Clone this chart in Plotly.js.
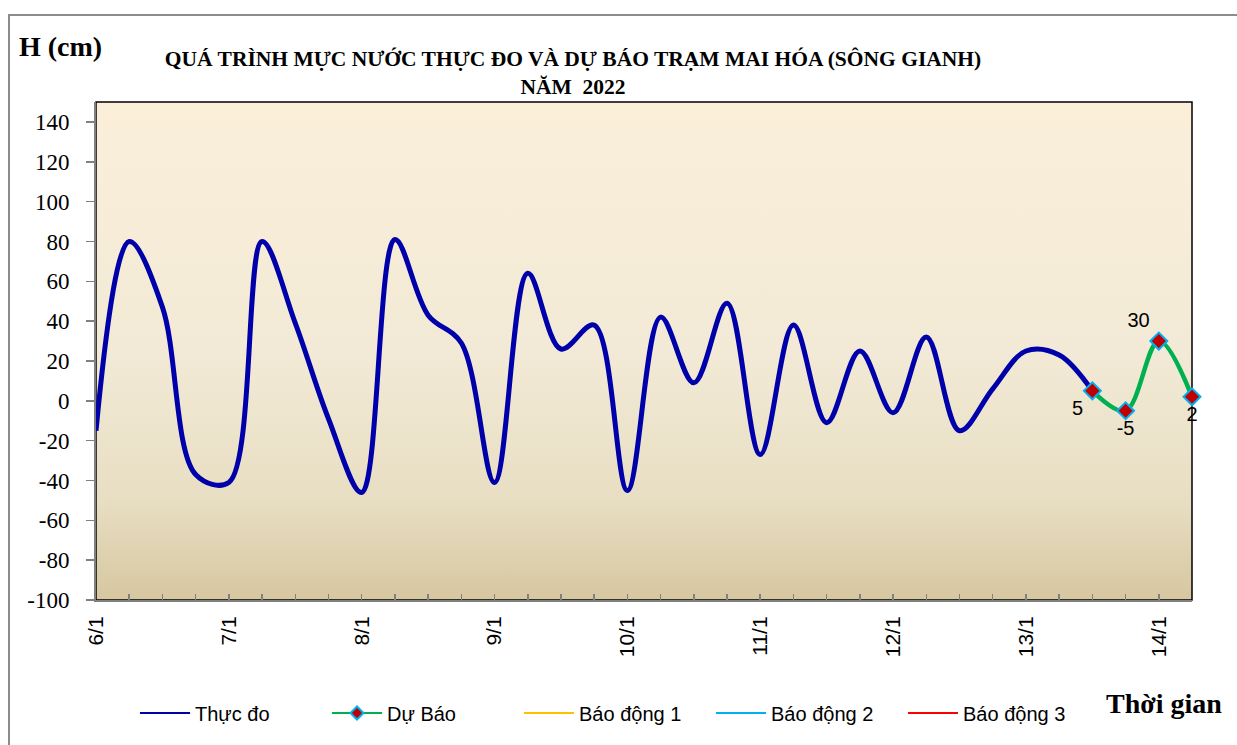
<!DOCTYPE html>
<html>
<head>
<meta charset="utf-8">
<script src="https://cdn.plot.ly/plotly-3.0.1.min.js"></script>
<style>
  html, body { margin: 0; padding: 0; background: #fff; }
  #wrap { position: relative; width: 1237px; height: 745px; overflow: hidden; }
  #chart { width: 1237px; height: 745px; }
  #frame { position: absolute; left: 8px; top: 14px; width: 1250px; height: 760px;
           border: 2px solid #8c8c8c; box-sizing: border-box; pointer-events: none; }
</style>
</head>
<body>
<div id="wrap">
  <div id="chart"></div>
  <div id="frame"></div>
</div>
<script>
// ---- data (6-hourly, January 2022) ----
const observedTimes = [
  "2022-01-06 00:00","2022-01-06 06:00","2022-01-06 12:00","2022-01-06 18:00",
  "2022-01-07 00:00","2022-01-07 06:00","2022-01-07 12:00","2022-01-07 18:00",
  "2022-01-08 00:00","2022-01-08 06:00","2022-01-08 12:00","2022-01-08 18:00",
  "2022-01-09 00:00","2022-01-09 06:00","2022-01-09 12:00","2022-01-09 18:00",
  "2022-01-10 00:00","2022-01-10 06:00","2022-01-10 12:00","2022-01-10 18:00",
  "2022-01-11 00:00","2022-01-11 06:00","2022-01-11 12:00","2022-01-11 18:00",
  "2022-01-12 00:00","2022-01-12 06:00","2022-01-12 12:00","2022-01-12 18:00",
  "2022-01-13 00:00","2022-01-13 06:00","2022-01-13 12:00"
];
const observedLevels = [
  -15, 80, 47, -37,
  -41, 80, 39, -9,
  -46, 81, 43, 29,
  -41, 64, 26, 38,
  -45, 42, 9, 49,
  -27, 38, -11, 25,
  -6, 32, -15, 6,
  25, 23, 5
];
const forecastTimes = ["2022-01-13 12:00","2022-01-13 18:00","2022-01-14 00:00","2022-01-14 06:00"];
const forecastLevels = [5, -5, 30, 2];
const forecastLabelPos = ["bottom left","bottom center","top left","bottom center"];

const seriesNames = ["Thực đo", "Dự Báo", "Báo động 1", "Báo động 2", "Báo động 3"];
const seriesColors = ["#0000AA", "#00B050", "#FFC000", "#00B0F0", "#FF0000"];

const yTickVals = [-100, -80, -60, -40, -20, 0, 20, 40, 60, 80, 100, 120, 140];
const yRange = [-100, 150];
const xRange = ["2022-01-06 00:00", "2022-01-14 06:00"];

// ---- traces ----
const traces = [
  {
    x: observedTimes, y: observedLevels, name: seriesNames[0], type: "scatter", mode: "lines",
    line: { color: seriesColors[0], width: 5, shape: "spline", smoothing: 1 },
    showlegend: false, legendgroup: "obs"
  },
  {
    x: forecastTimes, y: forecastLevels, name: seriesNames[1], type: "scatter", mode: "lines+markers+text",
    line: { color: seriesColors[1], width: 4.5, shape: "spline", smoothing: 1 },
    marker: { symbol: "diamond", size: 13, color: "#C00000", line: { color: "#00B0F0", width: 2 } },
    text: forecastLevels.map(String), textposition: forecastLabelPos,
    textfont: { family: "Liberation Sans, Arial, sans-serif", size: 20, color: "#000" },
    cliponaxis: false, showlegend: false, legendgroup: "fc"
  },
  // legend entries (thin key lines, as in the original legend)
  {
    x: xRange, y: [null, null], name: seriesNames[0], type: "scatter", mode: "lines",
    line: { color: seriesColors[0], width: 2 }, legendgroup: "obs", showlegend: true
  },
  {
    x: xRange, y: [null, null], name: seriesNames[1], type: "scatter", mode: "lines+markers",
    line: { color: seriesColors[1], width: 2 },
    marker: { symbol: "diamond", size: 10, color: "#C00000", line: { color: "#00B0F0", width: 2 } },
    legendgroup: "fc", showlegend: true
  }
];
// alarm levels lie outside the plotted range: they only appear in the legend
for (let i = 2; i < seriesNames.length; i++) {
  traces.push({
    x: xRange, y: [null, null], name: seriesNames[i], type: "scatter", mode: "lines",
    line: { color: seriesColors[i], width: 2 }, showlegend: true
  });
}

// ---- layout ----
const L = 96, R = 45, T = 102, B = 145, W = 1237, H = 745;
const pw = W - L - R, ph = H - T - B;
const px = v => (v - L) / pw;
const py = v => (H - B - v) / ph;

const gradSvg =
  "<svg xmlns='http://www.w3.org/2000/svg' width='100' height='100' preserveAspectRatio='none'>" +
  "<defs><linearGradient id='g' x1='0' y1='0' x2='0' y2='1'>" +
  "<stop offset='0' stop-color='#FBEFDA'/>" +
  "<stop offset='0.5' stop-color='#F2EAD6'/>" +
  "<stop offset='0.8' stop-color='#E8DEC3'/>" +
  "<stop offset='1' stop-color='#D6C7A0'/>" +
  "</linearGradient></defs><rect width='100' height='100' fill='url(#g)'/></svg>";

const layout = {
  width: W, height: H,
  margin: { l: L, r: R, t: T, b: B, pad: 0 },
  paper_bgcolor: "rgba(0,0,0,0)",
  plot_bgcolor: "rgba(0,0,0,0)",
  font: { family: "Liberation Sans, Arial, sans-serif", color: "#000" },
  title: {
    text: "QUÁ TRÌNH MỰC NƯỚC THỰC ĐO VÀ DỰ BÁO TRẠM MAI HÓA (SÔNG GIANH)<br>NĂM  2022",
    font: { family: "Liberation Serif, Times New Roman, serif", size: 21.5, weight: "bold", color: "#000" },
    xref: "container", x: 573 / W, xanchor: "center",
    yref: "container", y: 1 - 66 / H, yanchor: "middle"
  },
  images: [{
    source: "data:image/svg+xml;charset=utf-8," + encodeURIComponent(gradSvg),
    xref: "paper", yref: "paper", x: 0, y: 1, sizex: 1, sizey: 1,
    xanchor: "left", yanchor: "top", sizing: "stretch", layer: "below"
  }],
  xaxis: {
    type: "date", range: xRange, autorange: false,
    tick0: "2022-01-06", dtick: 86400000, tickformat: "%-d/%-m",
    tickangle: -90, ticks: "inside", ticklen: 6, tickwidth: 1.5, tickcolor: "#808080",
    minor: { dtick: 21600000, ticks: "inside", ticklen: 6, tickwidth: 1.5, tickcolor: "#808080", showgrid: false },
    showline: true, linecolor: "#808080", linewidth: 2,
    showgrid: false, zeroline: false,
    tickfont: { family: "Liberation Sans, Arial, sans-serif", size: 21, color: "#000" },
    ticklabelstandoff: 6
  },
  yaxis: {
    range: yRange, autorange: false,
    tickvals: yTickVals, ticktext: yTickVals.map(String),
    ticks: "outside", ticklen: 8, tickwidth: 1.5, tickcolor: "#808080",
    showline: true, linecolor: "#808080", linewidth: 2,
    showgrid: false, zeroline: false,
    tickfont: { family: "Liberation Serif, Times New Roman, serif", size: 23, color: "#000" },
    ticklabelstandoff: 12
  },
  shapes: [{
    type: "rect", xref: "paper", yref: "paper", x0: 0, x1: 1, y0: 0, y1: 1,
    line: { color: "#000", width: 1.5 }, fillcolor: "rgba(0,0,0,0)", layer: "below"
  }],
  showlegend: true,
  legend: {
    orientation: "h", xref: "paper", yref: "paper",
    x: px(615), xanchor: "center", y: py(713), yanchor: "middle",
    font: { family: "Liberation Sans, Arial, sans-serif", size: 20, color: "#000" },
    bgcolor: "rgba(0,0,0,0)", itemwidth: 50, tracegroupgap: 0,
    entrywidth: 127, entrywidthmode: "pixels"
  },
  annotations: [
    {
      text: "H (cm)", showarrow: false, xref: "paper", yref: "paper",
      x: px(17), xanchor: "left", y: py(47), yanchor: "middle",
      font: { family: "Liberation Serif, Times New Roman, serif", size: 28, weight: "bold", color: "#000" }
    },
    {
      text: "Thời gian", showarrow: false, xref: "paper", yref: "paper",
      x: px(1104), xanchor: "left", y: py(703), yanchor: "middle",
      font: { family: "Liberation Serif, Times New Roman, serif", size: 28, weight: "bold", color: "#000" }
    }
  ]
};

Plotly.newPlot("chart", traces, layout, { displayModeBar: false, staticPlot: true });
</script>
</body>
</html>
